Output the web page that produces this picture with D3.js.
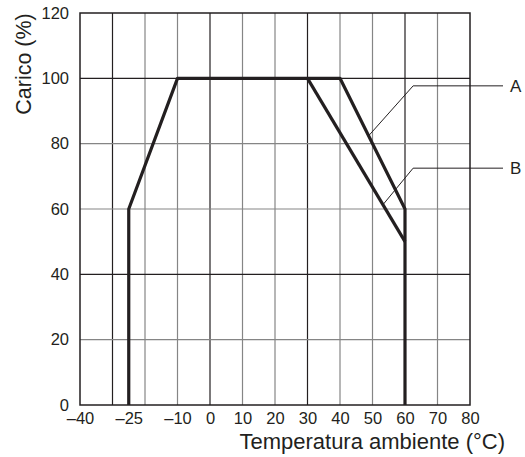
<!DOCTYPE html>
<html>
<head>
<meta charset="utf-8">
<script src="https://cdn.jsdelivr.net/npm/d3@7"></script>
<style>
  body { margin: 0; background: #fff; }
  text { font-family: "Liberation Sans", Arial, sans-serif; fill: #231f20; }
</style>
</head>
<body>
<div id="chart"></div>
<script>
// chart data
var xTicks = [-40, -25, -10, 0, 10, 20, 30, 40, 50, 60, 70, 80];
var yTicks = [0, 20, 40, 60, 80, 100, 120];
var xGrid = [-30, -20, -10, 0, 10, 20, 30, 40, 50, 60, 70];
var yGrid = [20, 40, 60, 80, 100];
var darkX = [-30, 0, 30, 60];
var darkY = [40, 100];
var curveA = [[-25, 0], [-25, 60], [-10, 100], [40, 100], [60, 60], [60, 0]];
var curveB = [[30, 100], [60, 50]];
// leader lines: point on curve, knee, label
var labelNames = ["A", "B"];
var labelAnchors = [[48.8, 82.4], [53.2, 61.3]];
var labelKnees = [[62.5, 97.7], [62.5, 72.5]];

var svgWidth = 525;
var svgHeight = 457;
var margin = { top: 13, right: 55, bottom: 52, left: 80 };
var chartWidth = svgWidth - margin.left - margin.right;
var chartHeight = svgHeight - margin.top - margin.bottom;

var svg = d3.select("#chart")
  .append("svg")
  .attr("width", svgWidth)
  .attr("height", svgHeight);

var chartGroup = svg.append("g")
  .attr("transform", `translate(${margin.left}, ${margin.top})`);

var x = d3.scaleLinear().domain([-40, 80]).range([0, chartWidth]);
var y = d3.scaleLinear().domain([0, 120]).range([chartHeight, 0]);

// grid
chartGroup.selectAll(".vgrid")
  .data(xGrid)
  .enter()
  .append("line")
  .attr("x1", d => x(d)).attr("x2", d => x(d))
  .attr("y1", 0).attr("y2", chartHeight)
  .attr("stroke", d => darkX.includes(d) ? "#231f20" : "#858585")
  .attr("stroke-width", 1.2);

chartGroup.selectAll(".hgrid")
  .data(yGrid)
  .enter()
  .append("line")
  .attr("y1", d => y(d)).attr("y2", d => y(d))
  .attr("x1", 0).attr("x2", chartWidth)
  .attr("stroke", d => darkY.includes(d) ? "#231f20" : "#858585")
  .attr("stroke-width", 1.2);

chartGroup.append("rect")
  .attr("width", chartWidth)
  .attr("height", chartHeight)
  .attr("fill", "none")
  .attr("stroke", "#231f20")
  .attr("stroke-width", 1.5);

// axes (labels only)
var xAxis = d3.axisBottom(x).tickValues(xTicks).tickSize(0).tickPadding(7)
  .tickFormat(d => d < 0 ? "\u2013" + Math.abs(d) : d);
var hAxis = chartGroup.append("g")
  .attr("transform", `translate(0, ${chartHeight})`)
  .call(xAxis);
var yAxis = d3.axisLeft(y).tickValues(yTicks).tickSize(0).tickPadding(11);
var vAxis = chartGroup.append("g").call(yAxis);

[hAxis, vAxis].forEach(function(g) {
  g.select(".domain").remove();
  g.selectAll("text")
    .attr("font-size", 16.5)
    .attr("font-family", "'Liberation Sans', Arial, sans-serif")
    .attr("fill", "#231f20");
});

// curves
var line = d3.line().x(d => x(d[0])).y(d => y(d[1]));
[curveA, curveB].forEach(function(c) {
  chartGroup.append("path")
    .attr("d", line(c))
    .attr("fill", "none")
    .attr("stroke", "#231f20")
    .attr("stroke-width", 3.2)
    .attr("stroke-linejoin", "round");
});

// leader lines and labels
labelNames.forEach(function(name, i) {
  var a = labelAnchors[i], k = labelKnees[i];
  chartGroup.append("polyline")
    .attr("points", [[x(a[0]), y(a[1])], [x(k[0]), y(k[1])], [chartWidth + 33, y(k[1])]].join(" "))
    .attr("fill", "none")
    .attr("stroke", "#231f20")
    .attr("stroke-width", 1);
  chartGroup.append("text")
    .attr("x", chartWidth + 40)
    .attr("y", y(k[1]))
    .attr("dy", "0.35em")
    .attr("font-size", 17)
    .text(name);
});

// axis titles
svg.append("text")
  .attr("x", 505)
  .attr("y", 448.5)
  .attr("text-anchor", "end")
  .attr("font-size", 22)
  .text("Temperatura ambiente (\u00b0C)");

svg.append("text")
  .attr("transform", "translate(31, 64) rotate(-90)")
  .attr("text-anchor", "middle")
  .attr("font-size", 21.5)
  .text("Carico (%)");
</script>
</body>
</html>
